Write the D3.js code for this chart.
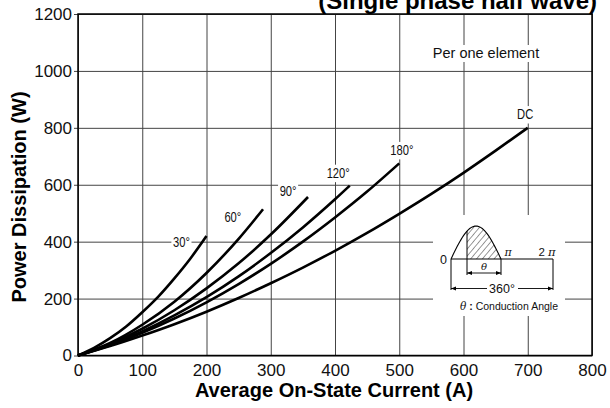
<!DOCTYPE html>
<html><head><meta charset="utf-8">
<script src="https://cdn.jsdelivr.net/npm/d3@7"></script>
<style>body{margin:0;background:#fff}svg{display:block}</style>
</head><body>
<svg id="c" width="610" height="408"></svg>
<script>
// ---------- data ----------
const xTicks = [0,100,200,300,400,500,600,700,800];
const yTicks = [0,200,400,600,800,1000,1200];
const seriesLabels = ["30°","60°","90°","120°","180°","DC"];

const current30 = [0,25,50,75,100,125,150,175,200];
const power30   = [0,27,61,102,152,207,271,341,420];
const current60 = [0,50,100,150,200,250,288];
const power60   = [0,44,108,189,290,410,514];
const current90 = [0,50,100,150,200,250,300,358];
const power90   = [0,41,94,159,236,324,425,557];
const current120 = [0,50,100,150,200,250,300,350,400,423];
const power120   = [0,38,85,141,205,278,360,450,549,597];
const current180 = [0,50,100,150,200,250,300,350,400,450,500];
const power180   = [0,36,80,130,187,251,322,400,485,576,675];
const currentDC = [0,50,100,150,200,250,300,350,400,450,500,550,600,650,700];
const powerDC   = [0,33,70,110,154,202,254,309,368,431,498,568,642,720,800];

// label anchor points (data units)
const labelCurrent = [161,241,327,405,504,696];
const labelPower   = [400,488,579,642,722,848];

// ---------- chart ----------
const svg = d3.select("#c");
const x = d3.scaleLinear().domain([0,800]).range([78,592]);
const y = d3.scaleLinear().domain([0,1200]).range([355.5,14]);
const plotW = x(800)-x(0), plotH = y(0)-y(1200);
const SANS = "'Liberation Sans',Arial,Helvetica,sans-serif";
const SERIF = "'DejaVu Serif','Liberation Serif',serif";

// x grid + labels
const gx = svg.append("g").attr("transform",`translate(0,${y(0)})`)
  .call(d3.axisBottom(x).tickValues(xTicks).tickFormat(d3.format("d")).tickSizeInner(-plotH).tickSizeOuter(0).tickPadding(8));
gx.select(".domain").remove();
gx.selectAll("line").attr("stroke","#444").attr("stroke-width",1);
gx.selectAll("text").attr("font-family",SANS).attr("font-size",17).attr("fill","#111");

// y grid + labels
const gy = svg.append("g").attr("transform",`translate(${x(0)},0)`)
  .call(d3.axisLeft(y).tickValues(yTicks).tickFormat(d3.format("d")).tickSizeInner(-plotW).tickSizeOuter(0).tickPadding(6));
gy.select(".domain").remove();
gy.selectAll("line").attr("stroke","#444").attr("stroke-width",1).attr("x1",-4);
gy.selectAll("text").attr("font-family",SANS).attr("font-size",17).attr("fill","#111");

// frame
svg.append("rect").attr("x",x(0)).attr("y",y(1200)).attr("width",plotW).attr("height",plotH)
  .attr("fill","none").attr("stroke","#000").attr("stroke-width",1.5);

// "Per one element" with white box
svg.append("rect").attr("x",429).attr("y",45).attr("width",116).attr("height",17).attr("fill","#fff");
svg.append("text").attr("x",486).attr("y",58).attr("text-anchor","middle")
  .attr("font-family",SANS).attr("font-size",14.5).attr("fill","#111").text("Per one element");

// inset diagram (illustration)
const ins = svg.append("g");
ins.append("rect").attr("x",433).attr("y",215).attr("width",132).attr("height",101).attr("fill","#fff");
const x0=451, xpi=501, x2pi=553, xth=467, bY=259, amp=33;
const defs = svg.append("defs");
const pat = defs.append("pattern").attr("id","hatch").attr("patternUnits","userSpaceOnUse")
  .attr("width",4.5).attr("height",4.5).attr("patternTransform","rotate(40)");
pat.append("line").attr("x1",0).attr("y1",0).attr("x2",0).attr("y2",4.5).attr("stroke","#000").attr("stroke-width",0.8);
const sx = d3.scaleLinear().domain([0,Math.PI]).range([x0,xpi]);
const sinePts = d3.range(0,Math.PI+0.001,Math.PI/40).map(t=>[sx(t), bY-amp*Math.sin(t)]);
const tTh = sx.invert(xth);
const hatchPts = [[xth,bY],[xth,bY-amp*Math.sin(tTh)]].concat(sinePts.filter(p=>p[0]>xth)).concat([[xpi,bY]]);
ins.append("path").attr("d",d3.line()(hatchPts)+"Z").attr("fill","url(#hatch)");
ins.append("path").attr("d",d3.line()(sinePts)).attr("fill","none").attr("stroke","#000").attr("stroke-width",1.1);
ins.append("line").attr("x1",xth).attr("x2",xth).attr("y1",bY).attr("y2",bY-amp*Math.sin(tTh)).attr("stroke","#000").attr("stroke-width",1);
ins.append("line").attr("x1",x0).attr("x2",x2pi).attr("y1",bY).attr("y2",bY).attr("stroke","#000").attr("stroke-width",1.1);
[x0,x2pi].forEach(v=>ins.append("line").attr("x1",v).attr("x2",v).attr("y1",bY).attr("y2",290).attr("stroke","#000").attr("stroke-width",1));
[xth,xpi].forEach(v=>ins.append("line").attr("x1",v).attr("x2",v).attr("y1",bY).attr("y2",275).attr("stroke","#000").attr("stroke-width",1));
defs.append("marker").attr("id","ah").attr("viewBox","0 0 10 10").attr("refX",10).attr("refY",5)
  .attr("markerWidth",7).attr("markerHeight",5).attr("markerUnits","userSpaceOnUse").attr("orient","auto-start-reverse")
  .append("path").attr("d","M0,1 L10,5 L0,9 Z").attr("fill","#000");
ins.append("line").attr("x1",xth).attr("x2",xpi).attr("y1",273).attr("y2",273).attr("stroke","#000").attr("stroke-width",0.9)
  .attr("marker-start","url(#ah)").attr("marker-end","url(#ah)");
ins.append("line").attr("x1",x0).attr("x2",x2pi).attr("y1",288.5).attr("y2",288.5).attr("stroke","#000").attr("stroke-width",0.9)
  .attr("marker-start","url(#ah)").attr("marker-end","url(#ah)");
ins.append("rect").attr("x",487).attr("y",281).attr("width",31).attr("height",14).attr("fill","#fff");
ins.append("text").attr("x",502).attr("y",293).attr("text-anchor","middle").attr("font-family",SANS).attr("font-size",12.5).attr("fill","#111").text("360°");
ins.append("text").attr("x",484).attr("y",270).attr("text-anchor","middle").attr("font-family",SERIF).attr("font-style","italic").attr("font-size",10).attr("fill","#111").text("θ");
ins.append("text").attr("x",447).attr("y",264).attr("text-anchor","end").attr("font-family",SANS).attr("font-size",12.5).attr("fill","#111").text("0");
ins.append("text").attr("x",508).attr("y",256).attr("text-anchor","middle").attr("font-family",SERIF).attr("font-style","italic").attr("font-size",11).attr("fill","#111").text("π");
ins.append("text").attr("x",547).attr("y",256).attr("text-anchor","middle").attr("font-family",SANS).attr("font-size",11.5).attr("fill","#111")
  .call(t=>{t.append("tspan").text("2 ");t.append("tspan").attr("font-family",SERIF).attr("font-style","italic").text("π");});
const ca = ins.append("text").attr("x",460).attr("y",310).attr("text-anchor","start").attr("font-family",SANS).attr("font-size",10.5).attr("fill","#111");
ca.append("tspan").attr("font-family",SERIF).attr("font-style","italic").text("θ");
ca.append("tspan").attr("font-weight","bold").text(" : ");
ca.append("tspan").text("Conduction Angle");

// curve labels with white background (narrow look via horizontal scale)
const series = [
  [current30,power30],[current60,power60],[current90,power90],
  [current120,power120],[current180,power180],[currentDC,powerDC]
];
seriesLabels.forEach((lab,i)=>{
  const g = svg.append("g").attr("transform",`translate(${x(labelCurrent[i])},${y(labelPower[i])}) scale(0.8,1)`);
  const t = g.append("text").attr("x",0).attr("y",0).attr("dy","0.36em")
    .attr("text-anchor","middle").attr("font-family",SANS).attr("font-size",14).attr("fill","#111").text(lab);
  const bb = t.node().getBBox();
  g.insert("rect","text").attr("x",bb.x-2).attr("y",bb.y-1).attr("width",bb.width+4).attr("height",bb.height+2).attr("fill","#fff");
});

// curves
const line = d3.line().x(d=>x(d[0])).y(d=>y(d[1])).curve(d3.curveMonotoneX);
series.forEach(([cs,ps])=>{
  svg.append("path").datum(cs.map((c,j)=>[c,ps[j]])).attr("d",line)
    .attr("fill","none").attr("stroke","#000").attr("stroke-width",2.6);
});

// titles
svg.append("text").attr("x",597).attr("y",9).attr("text-anchor","end").attr("font-family",SANS)
  .attr("font-weight","bold").attr("font-size",24).attr("fill","#000").text("(Single phase half wave)");
svg.append("text").attr("x",334).attr("y",397).attr("text-anchor","middle").attr("font-family",SANS)
  .attr("font-weight","bold").attr("font-size",20).attr("fill","#000").text("Average On-State Current (A)");
svg.append("text").attr("transform","translate(26,197) rotate(-90)").attr("text-anchor","middle").attr("font-family",SANS)
  .attr("font-weight","bold").attr("font-size",20).attr("fill","#000").text("Power Dissipation (W)");
</script>
</body></html>
